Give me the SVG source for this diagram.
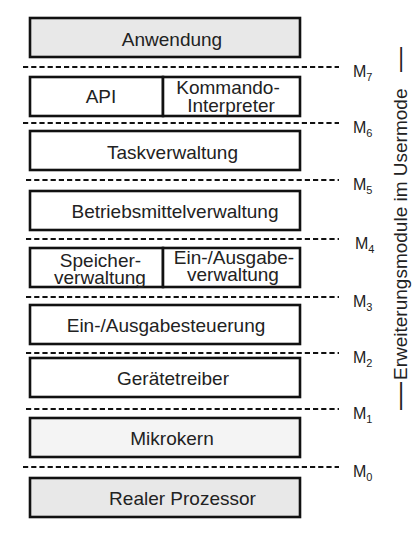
<svg xmlns="http://www.w3.org/2000/svg" width="420" height="536" viewBox="0 0 420 536">
<style>
.box{stroke:#111;stroke-width:2.6;fill:#fff}
.g1{fill:#e8e8e8}
.g2{fill:#f4f4f4}
.t{font-family:"Liberation Sans",Arial,sans-serif;font-size:19px;fill:#222;text-anchor:middle}
.m{font-family:"Liberation Sans",Arial,sans-serif;font-size:16px;fill:#222}
.s{font-size:11px}
.d{stroke:#111;stroke-width:2;stroke-dasharray:5.2 3;fill:none}
.v{font-family:"Liberation Sans",Arial,sans-serif;font-size:19px;fill:#222}
</style>
<rect width="420" height="536" fill="#fff"/>
<g id="levels">
<line class="d" x1="23" y1="67" x2="339" y2="67"/>
<line class="d" x1="23" y1="123" x2="339" y2="123"/>
<line class="d" x1="26" y1="180" x2="339" y2="180"/>
<line class="d" x1="26" y1="239" x2="339" y2="239"/>
<line class="d" x1="26" y1="297" x2="339" y2="297"/>
<line class="d" x1="26" y1="353" x2="339" y2="353"/>
<line class="d" x1="26" y1="409" x2="339" y2="409"/>
<line class="d" x1="23" y1="467" x2="339" y2="467"/>
</g>
<g id="level-labels">
<text class="m" x="353" y="77">M<tspan class="s" dy="4">7</tspan></text>
<text class="m" x="353" y="133">M<tspan class="s" dy="4">6</tspan></text>
<text class="m" x="353" y="190">M<tspan class="s" dy="4">5</tspan></text>
<text class="m" x="355" y="249">M<tspan class="s" dy="4">4</tspan></text>
<text class="m" x="353" y="307">M<tspan class="s" dy="4">3</tspan></text>
<text class="m" x="353" y="363">M<tspan class="s" dy="4">2</tspan></text>
<text class="m" x="353" y="419">M<tspan class="s" dy="4">1</tspan></text>
<text class="m" x="353" y="477">M<tspan class="s" dy="4">0</tspan></text>
</g>
<g id="anwendung">
<rect class="box g1" x="30" y="18" width="270" height="39"/>
<text class="t" x="172" y="45.5">Anwendung</text>
</g>
<g id="api">
<rect class="box" x="30" y="77" width="133" height="39"/>
<text class="t" x="101" y="103">API</text>
</g>
<g id="kommando">
<rect class="box" x="163" y="77" width="137" height="39"/>
<text class="t" x="228" y="94">Kommando-</text>
<text class="t" x="231" y="111.5">Interpreter</text>
</g>
<g id="task">
<rect class="box" x="30" y="131" width="270" height="39"/>
<text class="t" x="172.5" y="158.5">Taskverwaltung</text>
</g>
<g id="betriebsmittel">
<rect class="box" x="30" y="191" width="270" height="39"/>
<text class="t" x="175" y="217.5">Betriebsmittelverwaltung</text>
</g>
<g id="speicher">
<rect class="box" x="30" y="248" width="133" height="39"/>
<text class="t" x="100.5" y="266.5">Speicher-</text>
<text class="t" x="100" y="283.5">verwaltung</text>
</g>
<g id="ea-verwaltung">
<rect class="box" x="163" y="248" width="137" height="39"/>
<text class="t" x="234" y="264">Ein-/Ausgabe-</text>
<text class="t" x="233" y="281">verwaltung</text>
</g>
<g id="ea-steuerung">
<rect class="box" x="30" y="305" width="270" height="39"/>
<text class="t" x="166" y="331.5">Ein-/Ausgabesteuerung</text>
</g>
<g id="treiber">
<rect class="box" x="30" y="358" width="270" height="39"/>
<text class="t" x="173" y="384.5">Gerätetreiber</text>
</g>
<g id="mikrokern">
<rect class="box g2" x="30" y="418" width="270" height="39"/>
<text class="t" x="172" y="444.5">Mikrokern</text>
</g>
<g id="prozessor">
<rect class="box g1" x="30" y="478" width="270" height="39"/>
<text class="t" x="182.5" y="504.5">Realer Prozessor</text>
</g>
<g id="side-label">
<text class="v" transform="translate(406.5,0) rotate(-90)" x="-410" y="0"><tspan x="-410" style="font-size:28px" dy="1.5">—</tspan><tspan x="-380" dy="-1.5">Erweiterungsmodule im Usermode </tspan><tspan x="-72" style="font-size:25px" dy="1">—</tspan></text>
</g>
</svg>
